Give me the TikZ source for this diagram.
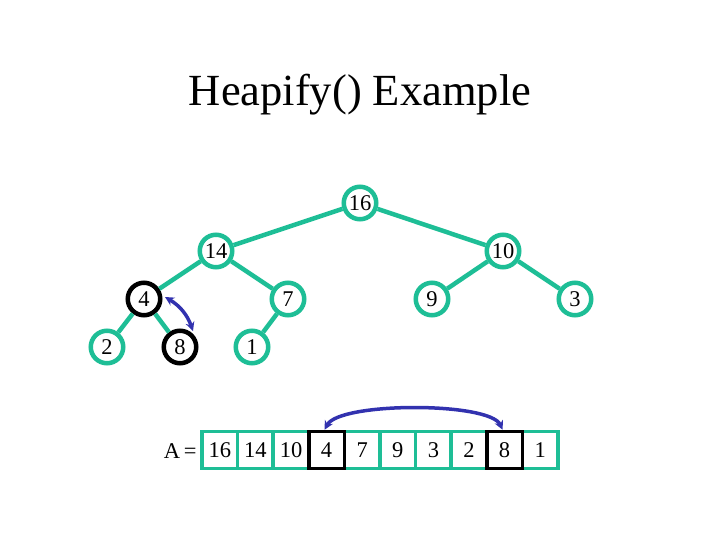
\documentclass[tikz,border=0pt]{standalone}
\usepackage{fontspec}
\setmainfont{Liberation Serif}
\usetikzlibrary{arrows.meta}
\definecolor{teal1}{RGB}{30,190,150}
\definecolor{arrblue}{RGB}{50,50,175}
\begin{document}
\begin{tikzpicture}[x=1pt,y=-1pt,
  hnode/.style={circle,draw=teal1,line width=4.5pt,fill=white,minimum size=32.5pt,inner sep=0pt,font=\fontsize{22.5}{22.5}\selectfont},
  hblack/.style={hnode,draw=black},
  edge/.style={draw=teal1,line width=4.5pt},
  cell/.style={rectangle,draw=teal1,line width=3.5pt,fill=white,minimum width=35.6pt,minimum height=37pt,inner sep=0pt,font=\fontsize{22.5}{22.5}\selectfont},
  cellb/.style={cell,draw=black},
  swap/.style={draw=arrblue,line width=3.5pt,{Stealth[length=9pt,width=9pt]}-{Stealth[length=9pt,width=9pt]}}]
\useasboundingbox (0,0) rectangle (720,540);
\node[font=\fontsize{44.5}{44.5}\selectfont] (title) at (360,95) {Heapify() Example};
\node[hnode] (n16) at (360,203) {16};
\node[hnode] (n14) at (216,251) {14};
\node[hnode] (n10) at (503,251) {10};
\node[hblack] (n4) at (144,299) {4};
\node[hnode] (n7) at (288,299) {7};
\node[hnode] (n9) at (432,299) {9};
\node[hnode] (n3) at (575,299) {3};
\node[hnode] (n2) at (107,347) {2};
\node[hblack] (n8) at (180,347) {8};
\node[hnode] (n1) at (252,347) {1};
\foreach \a/\b in {n16/n14,n16/n10,n14/n4,n14/n7,n10/n9,n10/n3,n4/n2,n4/n8,n7/n1}
  \path[edge] (\a) -- (\b);
\coordinate (s1) at (165,297);
\coordinate (s2) at (193,331);
\draw[swap] (s1) to[bend left=20] (s2);
% array
\node[font=\fontsize{22.5}{22.5}\selectfont,anchor=east] (alabel) at (200,451) {A\,=};
\foreach \v [count=\i] in {16,14,10,4,7,9,3,2,8,1}{
  \pgfmathsetmacro{\cx}{202+35.6*(\i-0.5)}
  \node[cell] (c\i) at (\cx,450) {\v};
}
\node[cellb] (c4b) at (c4) {4};
\node[cellb] (c9b) at (c9) {8};
\coordinate (a1) at ([xshift=-2pt]c4b.north);
\coordinate (a2) at ([xshift=-2pt]c9b.north);
\draw[swap] (a1) .. controls +(15,-28) and +(-13,-28) .. (a2);
\end{tikzpicture}
\end{document}
